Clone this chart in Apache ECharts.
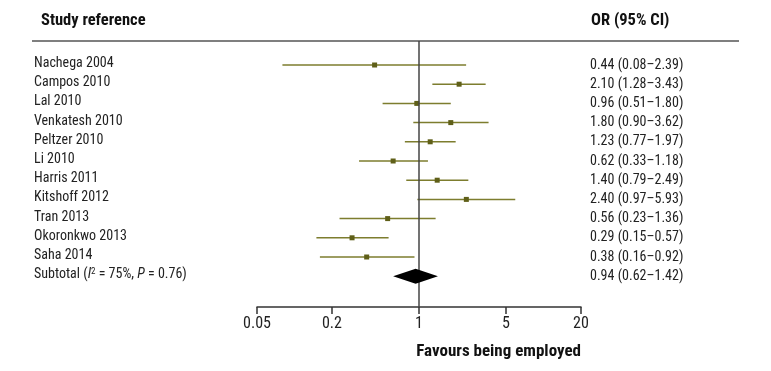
<!DOCTYPE html>
<html>
<head>
<meta charset="utf-8">
<script src="https://cdn.jsdelivr.net/npm/echarts@6/dist/echarts.min.js"></script>
<style>
  html, body { margin: 0; padding: 0; background: #fff; }
  #chart { width: 771px; height: 371px; }
</style>
</head>
<body>
<div id="chart"></div>
<script>
const FONT = '"Roboto Condensed", "Liberation Sans Narrow", sans-serif';

// study rows
const studies = ['Nachega 2004', 'Campos 2010', 'Lal 2010', 'Venkatesh 2010', 'Peltzer 2010', 'Li 2010',
  'Harris 2011', 'Kitshoff 2012', 'Tran 2013', 'Okoronkwo 2013', 'Saha 2014'];
const orValues = [0.44, 2.10, 0.96, 1.80, 1.23, 0.62, 1.40, 2.40, 0.56, 0.29, 0.38];
const ciLow = [0.08, 1.28, 0.51, 0.90, 0.77, 0.33, 0.79, 0.97, 0.23, 0.15, 0.16];
const ciHigh = [2.39, 3.43, 1.80, 3.62, 1.97, 1.18, 2.49, 5.93, 1.36, 0.57, 0.92];

// pooled estimate
const subtotalLabel = 'Subtotal';
const subtotal = [0.94, 0.62, 1.42]; // OR, low, high

const tickValues = [0.05, 0.2, 1, 5, 20];

const rowLabels = studies.concat([subtotalLabel]);
const orText = orValues.map((v, i) => v.toFixed(2) + ' (' + ciLow[i].toFixed(2) + '\u2013' + ciHigh[i].toFixed(2) + ')')
  .concat([subtotal[0].toFixed(2) + ' (' + subtotal[1].toFixed(2) + '\u2013' + subtotal[2].toFixed(2) + ')']);

const olive = '#7d7d2e';
const oliveDark = '#5f5f18';

const chart = echarts.init(document.getElementById('chart'));

const rowData = studies.map((s, i) => [i, orValues[i], ciLow[i], ciHigh[i]]);

const option = {
  animation: false,
  grid: [
    { left: 257, right: 190, top: 55.4, height: 230.4 },
    { left: 257, right: 190, top: 41, height: 266 }
  ],
  xAxis: [
    { gridIndex: 0, type: 'log', min: 0.05, max: 20, show: false },
    {
      gridIndex: 1, type: 'log', min: 0.05, max: 20,
      axisLine: { show: true, lineStyle: { color: '#333', width: 1.5 } },
      axisTick: { show: true, length: 7, customValues: tickValues, lineStyle: { color: '#333', width: 1.5 } },
      axisLabel: {
        customValues: tickValues, margin: 9, color: '#222', fontSize: 16, fontFamily: FONT,
        formatter: v => String(+v.toPrecision(3))
      },
      splitLine: { show: false },
      minorTick: { show: false },
      name: 'Favours being employed',
      nameLocation: 'end',
      nameGap: 0,
      nameTextStyle: {
        fontFamily: FONT, fontWeight: 'bold', fontSize: 17, color: '#111',
        align: 'right', verticalAlign: 'top', padding: [36, 0, 0, 0]
      }
    }
  ],
  yAxis: [
    {
      gridIndex: 0, type: 'category', inverse: true, data: rowLabels,
      axisLine: { show: false }, axisTick: { show: false }, splitLine: { show: false },
      axisLabel: {
        align: 'left', margin: 223, color: '#222', fontSize: 14, fontFamily: FONT,
        padding: [0, 0, 3, 0],
        formatter: function (v) {
          if (v === subtotalLabel) return 'Subtotal ({it|I}{sup|2} = 75%, {it|P} = 0.76)';
          return v;
        },
        rich: {
          it: { fontStyle: 'italic', fontSize: 14, fontFamily: FONT, color: '#222' },
          sup: { fontSize: 9, fontFamily: FONT, color: '#222', verticalAlign: 'top', padding: [0, 0, 6, 0] }
        }
      }
    },
    {
      gridIndex: 0, type: 'category', inverse: true, position: 'right', data: orText,
      axisLine: { show: false }, axisTick: { show: false }, splitLine: { show: false },
      axisLabel: { align: 'left', margin: 9, color: '#222', fontSize: 14, fontFamily: FONT, padding: [0, 0, 3, 0] }
    },
    { gridIndex: 1, type: 'value', min: 0, max: 1, show: false }
  ],
  series: [
    {
      type: 'custom',
      xAxisIndex: 0, yAxisIndex: 0,
      data: rowData,
      encode: { x: [1, 2, 3], y: 0 },
      renderItem: function (params, api) {
        const i = api.value(0);
        const p = api.coord([api.value(1), i]);
        const a = api.coord([api.value(2), i]);
        const b = api.coord([api.value(3), i]);
        const s = 5;
        return {
          type: 'group',
          children: [
            { type: 'line', shape: { x1: a[0], y1: a[1], x2: b[0], y2: b[1] }, style: { stroke: olive, lineWidth: 1.5 } },
            { type: 'rect', shape: { x: p[0] - s / 2, y: p[1] - s / 2, width: s, height: s }, style: { fill: oliveDark } }
          ]
        };
      }
    },
    {
      type: 'custom',
      xAxisIndex: 0, yAxisIndex: 0,
      data: [[studies.length, subtotal[0], subtotal[1], subtotal[2]]],
      encode: { x: [1, 2, 3], y: 0 },
      z: 5,
      renderItem: function (params, api) {
        const i = api.value(0);
        const p = api.coord([api.value(1), i]);
        const a = api.coord([api.value(2), i]);
        const b = api.coord([api.value(3), i]);
        const h = 7.5;
        return {
          type: 'polygon',
          shape: { points: [[a[0], p[1]], [p[0], p[1] - h], [b[0], p[1]], [p[0], p[1] + h]] },
          style: { fill: '#000' }
        };
      }
    },
    {
      type: 'scatter',
      xAxisIndex: 1, yAxisIndex: 2,
      data: [],
      markLine: {
        silent: true, symbol: 'none', label: { show: false },
        lineStyle: { color: '#444', width: 1.5, type: 'solid' },
        data: [{ xAxis: 1 }]
      }
    }
  ],
  graphic: [
    { type: 'line', shape: { x1: 32, y1: 41, x2: 739, y2: 41 }, style: { stroke: '#555', lineWidth: 1.5 } },
    { type: 'text', left: 41, top: 12, style: { text: 'Study reference', font: 'bold 16.5px ' + FONT, fill: '#111' } },
    { type: 'text', left: 591, top: 12, style: { text: 'OR (95% CI)', font: 'bold 16.5px ' + FONT, fill: '#111' } }
  ]
};

chart.setOption(option);
</script>
</body>
</html>
